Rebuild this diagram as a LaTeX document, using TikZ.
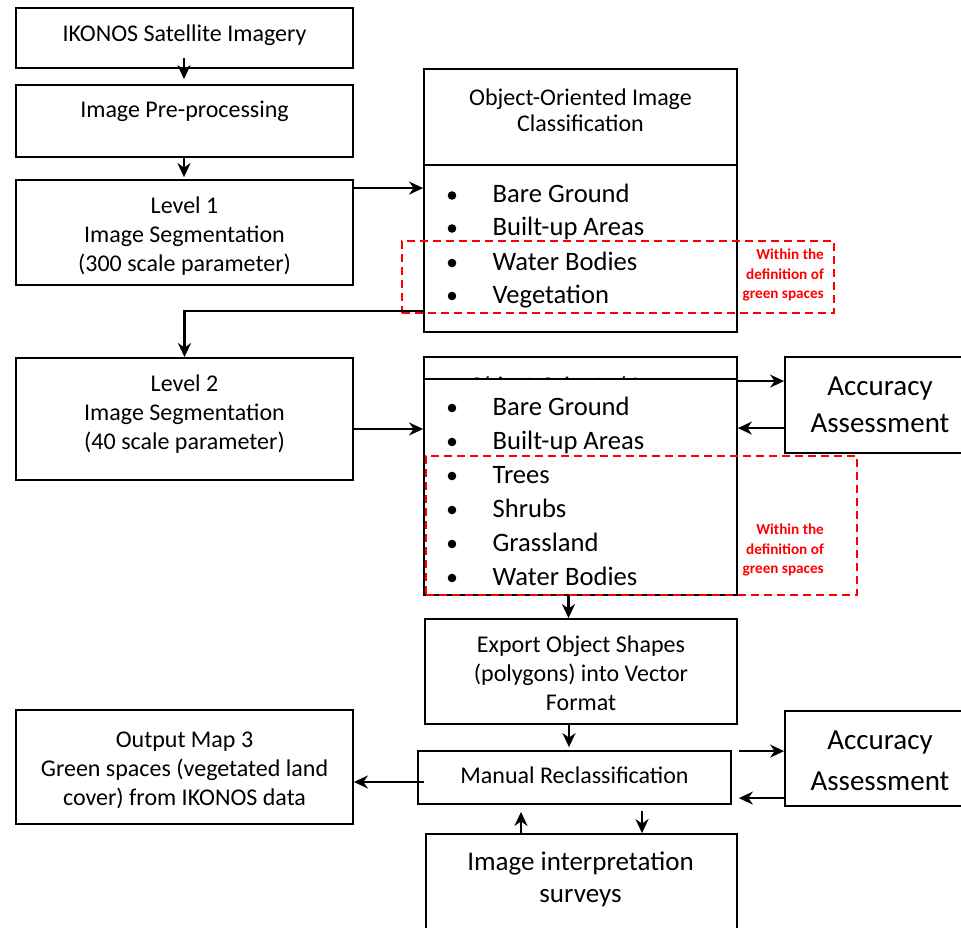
\documentclass[tikz,border=0pt]{standalone}
\usepackage{fontspec}
\setmainfont{Carlito}
\usetikzlibrary{arrows.meta,calc}
\tikzset{
  box/.style={draw, line width=1.8pt, inner sep=0pt, fill=white},
  txt/.style={inner sep=0pt, align=center},
  nf/.style={font=\fontsize{24}{29}\selectfont},
  tf/.style={font=\fontsize{24}{26}\selectfont},
  bf/.style={font=\fontsize{29}{37}\selectfont},
  bfb/.style={font=\fontsize{29}{41}\selectfont},
  sf/.style={font=\fontsize{27}{32}\selectfont},
  arr/.style={line width=2.2pt, -{Stealth[length=14pt,width=13pt,inset=4.5pt]}},
  reddash/.style={draw=red, line width=1.8pt, dash pattern=on 8pt off 5pt, inner sep=0pt},
  redtxt/.style={text=red, font=\bfseries\fontsize{15.2}{19.5}\selectfont, align=right, inner sep=0pt, anchor=east},
  item/.style={anchor=base west, inner sep=0pt, font=\fontsize{26.6}{30}\selectfont},
}
\begin{document}
\begin{tikzpicture}[x=1pt,y=-1pt]
\useasboundingbox (0,0) rectangle (961,928);

% left column
\node[box, minimum width=337pt, minimum height=60pt] (ikonos) at (184.5,38) {};
\node[txt,nf] (ikonosT) at (184.5,36.2) {IKONOS Satellite Imagery\strut};
\node[box, minimum width=337pt, minimum height=72pt] (pre) at (184.5,121) {};
\node[txt,nf] (preT) at (184.5,112.2) {Image Pre-processing\strut};
\node[box, minimum width=337pt, minimum height=105pt] (lvl1) at (184.5,232.5) {};
\node[txt,nf] (lvl1T) at (184.5,236.9) {Level 1\strut\\Image Segmentation\strut\\(300 scale parameter)\strut};
\node[box, minimum width=337pt, minimum height=122pt] (lvl2) at (184.5,419) {};
\node[txt,nf] (lvl2T) at (184.5,414.9) {Level 2\strut\\Image Segmentation\strut\\(40 scale parameter)\strut};
\node[box, minimum width=337pt, minimum height=114pt] (out) at (184.5,767) {};
\node[txt,nf] (outT) at (184.5,770.2) {Output Map 3\strut\\Green spaces (vegetated land\strut\\cover) from IKONOS data\strut};

% classification 1
\node[box, minimum width=313pt, minimum height=263pt] (cls1) at (580.5,200.5) {};
\node[txt,tf] (cls1T) at (580.5,113.8) {Object-Oriented Image\strut\\Classification\strut};
\coordinate (dv) at (0,165);
\draw[line width=1.8pt] (cls1.west |- dv) -- (cls1.east |- dv);
\fill (452,195.5) circle (4.3pt);
\node[item] (i1a) at (492.5,202.5) {Bare Ground};
\fill (452,228.5) circle (4.3pt);
\node[item] (i1b) at (492.5,235.5) {Built-up Areas};
\fill (452,263) circle (4.3pt);
\node[item] (i1c) at (492.5,270) {Water Bodies};
\fill (452,296) circle (4.3pt);
\node[item] (i1d) at (492.5,303) {Vegetation};
\node[reddash, minimum width=432pt, minimum height=72pt] (red1) at (618,277) {};
\node[redtxt] (red1T) at (824,275.1) {Within the\\definition of\\green spaces};

% classification 2 (title box partly hidden behind the list box)
\node[box, minimum width=313pt, minimum height=238pt] (cls2b) at (580.5,476) {};
\node[inner sep=0pt, anchor=base, font=\fontsize{24}{26}\selectfont] (cls2bT) at (580.5,393) {Object-Oriented Image};
\node[box, minimum width=313pt, minimum height=216pt] (cls2) at (580.5,487) {};
\fill (452,408) circle (4.3pt);
\node[item] (i2a) at (492.5,415) {Bare Ground};
\fill (452,442) circle (4.3pt);
\node[item] (i2b) at (492.5,449) {Built-up Areas};
\fill (452,476) circle (4.3pt);
\node[item] (i2c) at (492.5,483) {Trees};
\fill (452,510) circle (4.3pt);
\node[item] (i2d) at (492.5,517) {Shrubs};
\fill (452,544) circle (4.3pt);
\node[item] (i2e) at (492.5,551) {Grassland};
\fill (452,578) circle (4.3pt);
\node[item] (i2f) at (492.5,585) {Water Bodies};
\node[reddash, minimum width=431pt, minimum height=139pt] (red2) at (641.5,525.5) {};
\node[redtxt] (red2T) at (824,550.1) {Within the\\definition of\\green spaces};

% accuracy boxes
\node[box, minimum width=190pt, minimum height=96pt] (acc1) at (880,405) {};
\node[txt,bf] (acc1T) at (880,406.1) {Accuracy\strut\\Assessment\strut};
\node[box, minimum width=190pt, minimum height=95pt] (acc2) at (880,758.5) {};
\node[txt,bfb] (acc2T) at (880,761.3) {Accuracy\strut\\Assessment\strut};

% export, manual, survey
\node[box, minimum width=312pt, minimum height=105pt] (exp) at (581,671.5) {};
\node[txt,nf] (expT) at (581,675.2) {Export Object Shapes\strut\\(polygons) into Vector\strut\\Format\strut};
\node[box, minimum width=313pt, minimum height=53pt] (man) at (574.5,777.5) {};
\node[txt,nf] (manT) at (574.5,777.2) {Manual Reclassification\strut};
\node[box, minimum width=311pt, minimum height=126pt] (surv) at (581.5,897) {};
\node[txt,sf] (survT) at (580.5,879.6) {Image interpretation\strut\\surveys\strut};

% connectors
\draw[arr] ($(ikonos.south)+(-0.5,-11)$) -- ($(pre.north)+(-0.5,-5)$);
\draw[arr] ($(pre.south)+(-0.5,0)$) -- ($(lvl1.north)+(-0.5,-2)$);
\coordinate (a1) at ($(lvl1.north east)+(0,9)$);
\draw[arr] (a1) -- (a1 -| cls1.west);
\coordinate (a2) at ($(cls1.south west)+(0,-22)$);
\draw[arr] (a2) -| (lvl2.north);
\coordinate (a3) at ($(lvl2.east)+(0,10)$);
\draw[arr] (a3) -- (a3 -| cls2.west);
\coordinate (a4) at ($(acc1.north west)+(0,25)$);
\draw[arr] (a4 -| cls2.east) -- (a4);
\coordinate (a5) at ($(acc1.north west)+(0,72)$);
\draw[arr] (a5) -- (a5 -| cls2.east);
\coordinate (a6) at ($(exp.north)+(-12.5,0)$);
\draw[arr] (a6 |- cls2.south) -- (a6);
\coordinate (a7) at ($(exp.south)+(-12,0)$);
\draw[arr] (a7) -- ($(a7 |- man.north)+(0,-3)$);
\coordinate (a8) at ($(man.west)+(7,4.5)$);
\draw[arr] (a8) -- (a8 -| out.east);
\coordinate (a9) at ($(acc2.north west)+(0,41)$);
\draw[arr] ($(a9 -| man.east)+(7,0)$) -- (a9);
\coordinate (a10) at ($(acc2.north west)+(0,88)$);
\draw[arr] (a10) -- ($(a10 -| man.east)+(7,0)$);
\coordinate (a11) at ($(surv.north)+(-60.5,0)$);
\draw[arr] (a11) -- ($(a11 |- man.south)+(0,7)$);
\coordinate (a12) at ($(surv.north)+(60.5,0)$);
\draw[arr] ($(a12 |- man.south)+(0,6)$) -- (a12);
\end{tikzpicture}
\end{document}
